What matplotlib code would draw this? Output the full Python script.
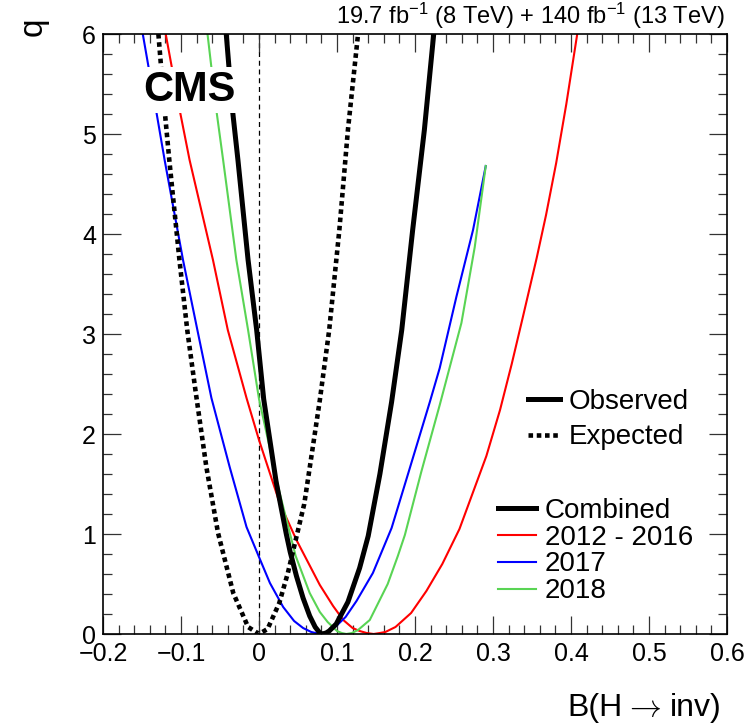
import matplotlib
matplotlib.use("Agg")
import matplotlib.pyplot as plt
from matplotlib.ticker import MultipleLocator, FuncFormatter
from matplotlib.lines import Line2D
from matplotlib.transforms import blended_transform_factory, IdentityTransform

plt.rcParams['font.family'] = ['Liberation Sans', 'DejaVu Sans']
plt.rcParams['mathtext.fontset'] = 'custom'
plt.rcParams['mathtext.rm'] = 'Liberation Sans'
plt.rcParams['mathtext.it'] = 'Liberation Sans:italic'

# --- values (x = B(H->inv), q) ---
obs_x = [-0.042, -0.034, -0.027, -0.014, -0.003, 0.006, 0.022, 0.035, 0.040, 0.048,
         0.0565, 0.065, 0.072, 0.077, 0.081, 0.086, 0.090, 0.099, 0.114, 0.129, 0.140,
         0.155, 0.170, 0.183, 0.197, 0.212, 0.224]
obs_q = [6.0, 5.24, 4.74, 3.74, 3.04, 2.35, 1.52, 1.00, 0.82, 0.58,
         0.36, 0.18, 0.07, 0.02, 0.0, 0.01, 0.03, 0.10, 0.32, 0.66, 0.98,
         1.60, 2.32, 3.04, 4.04, 5.04, 6.0]

exp_x = [-0.129, -0.121, -0.115, -0.102, -0.092, -0.081, -0.0675, -0.0525, -0.033,
         -0.014, 0.0, 0.011, 0.026, 0.037, 0.058, 0.069, 0.078, 0.090, 0.103, 0.114, 0.127]
exp_q = [6.0, 5.24, 4.74, 3.74, 3.04, 2.41, 1.67, 1.01, 0.41,
         0.07, 0.0, 0.05, 0.31, 0.61, 1.30, 1.87, 2.34, 3.04, 4.04, 5.04, 6.0]

red_x = [-0.1196, -0.1017, -0.089, -0.059, -0.040, -0.016, 0.0, 0.0265, 0.048, 0.078,
         0.095, 0.108, 0.120, 0.129, 0.138, 0.147, 0.155, 0.162, 0.175, 0.195, 0.2146,
         0.235, 0.257, 0.2915, 0.309, 0.324, 0.338, 0.356, 0.368, 0.381, 0.394, 0.408]
red_q = [6.0, 5.24, 4.74, 3.74, 3.04, 2.36, 1.94, 1.31, 0.94, 0.49,
         0.28, 0.14, 0.06, 0.03, 0.01, 0.0, 0.01, 0.02, 0.07, 0.21, 0.43,
         0.70, 1.05, 1.78, 2.24, 2.70, 3.16, 3.76, 4.19, 4.71, 5.30, 6.0]

blue_x = [-0.149, -0.132, -0.121, -0.0974, -0.079, -0.061, -0.0376, -0.016, 0.0, 0.014,
          0.031, 0.045, 0.0565, 0.067, 0.078, 0.088, 0.099, 0.111, 0.125, 0.146,
          0.170, 0.193, 0.219, 0.2317, 0.253, 0.2744, 0.2907]
blue_q = [6.0, 5.24, 4.74, 3.74, 3.04, 2.36, 1.67, 1.07, 0.77, 0.51,
          0.27, 0.13, 0.06, 0.02, 0.0, 0.02, 0.08, 0.17, 0.33, 0.61,
          1.06, 1.65, 2.32, 2.66, 3.37, 4.04, 4.68]

green_x = [-0.066, -0.0547, -0.046, -0.029, -0.014, 0.0, 0.0265, 0.047, 0.065, 0.078,
           0.088, 0.100, 0.106, 0.112, 0.119, 0.127, 0.142, 0.165, 0.178, 0.187,
           0.208, 0.2317, 0.2595, 0.2766, 0.2907]
green_q = [6.0, 5.24, 4.74, 3.74, 3.04, 2.35, 1.41, 0.78, 0.41, 0.22,
           0.12, 0.03, 0.01, 0.0, 0.01, 0.04, 0.14, 0.50, 0.78, 0.99,
           1.62, 2.29, 3.11, 3.87, 4.68]

labels = ["Combined", "2012 - 2016", "2017", "2018"]
colors = ["black", "#ff0000", "#0000ff", "#59d454"]

fig = plt.figure(figsize=(7.45, 7.24), dpi=100)
ax = fig.add_axes([103 / 745, 1 - 634 / 724, 624 / 745, 600 / 724])

ax.axvline(0, color="black", lw=0.9, ls=(0, (4, 3)), zorder=1)

# per-period curves
l_red, = ax.plot(red_x, red_q, color=colors[1], lw=1.5, zorder=2)
l_blue, = ax.plot(blue_x, blue_q, color=colors[2], lw=1.5, zorder=2)
l_green, = ax.plot(green_x, green_q, color=colors[3], lw=1.5, zorder=2)
# combined
ax.plot(exp_x, exp_q, color="black", lw=3.3, ls=(0, (1, 0.8)),
        dash_capstyle="butt", zorder=3)
l_obs, = ax.plot(obs_x, obs_q, color="black", lw=3.6, zorder=3)

ax.set_xlim(-0.2, 0.6)
ax.set_ylim(0, 6)
ax.xaxis.set_major_locator(MultipleLocator(0.1))
ax.xaxis.set_minor_locator(MultipleLocator(0.02))
ax.yaxis.set_major_locator(MultipleLocator(1))
ax.yaxis.set_minor_locator(MultipleLocator(0.2))


def fmt_x(v, pos):
    if abs(v) < 1e-9:
        return "0"
    return ("%.1f" % v).replace("-", "\u2212")


ax.xaxis.set_major_formatter(FuncFormatter(fmt_x))
ax.tick_params(which="both", direction="in", top=True, right=True,
               width=0.9, color="#333333", labelsize=18)
ax.tick_params(which="major", length=13)
ax.tick_params(which="minor", length=6.8)
ax.tick_params(axis="x", pad=6)
ax.tick_params(axis="y", pad=5)
for sp in ax.spines.values():
    sp.set_linewidth(1.2)

# CMS label with white box over the curves
ax.text(189 / 745, 1 - 101 / 724, "CMS", transform=fig.transFigure,
        fontsize=30, fontweight="bold", ha="center", va="baseline", zorder=5,
        bbox=dict(facecolor="white", edgecolor="none", pad=2))

fig.text(725 / 745, 1 - 24 / 724,
         r"19.7 fb$^{\mathrm{-1}}$ (8 TeV) + 140 fb$^{\mathrm{-1}}$ (13 TeV)",
         fontsize=17, ha="right", va="baseline")

# x-axis title, right aligned: "inv)" then the cm arrow then "B(H"
xt_y = 1 - 716 / 724
px_fig = blended_transform_factory(IdentityTransform(), fig.transFigure)
fig.canvas.draw()
right = 722 * fig.dpi / 100
for part, kw, gap in [("inv)", {}, 9), (r"$\rightarrow$", {"math_fontfamily": "cm"}, 1),
                      ("B(H", {}, 0)]:
    t = fig.text(right, xt_y, part, fontsize=23, ha="right", va="baseline",
                 transform=px_fig, **kw)
    fig.canvas.draw()
    right = t.get_window_extent().x0 - gap

fig.text(33 / 745, 1 - 18 / 724, "q", fontsize=24, rotation=90,
         ha="center", va="top")

# legends
h_obs = Line2D([], [], color="black", lw=3.6)
h_exp = Line2D([], [], color="black", lw=3.3, ls=(0, (1, 0.8)), dash_capstyle="butt")
leg1 = ax.legend([h_obs, h_exp], ["Observed", "Expected"], loc="center left",
                 bbox_to_anchor=(528 / 745, 1 - 419.5 / 724),
                 bbox_transform=fig.transFigure, frameon=False, fontsize=20,
                 handlelength=1.15, handletextpad=0.3, labelspacing=0.35,
                 borderpad=0, borderaxespad=0)
ax.add_artist(leg1)
ax.legend([l_obs, l_red, l_blue, l_green], labels, loc="center left",
          bbox_to_anchor=(498 / 745, 1 - 551 / 724),
          bbox_transform=fig.transFigure, frameon=False, fontsize=20,
          handlelength=1.35, handletextpad=0.33, labelspacing=0.03,
          borderpad=0, borderaxespad=0)

fig.savefig("out.png", dpi=100)
